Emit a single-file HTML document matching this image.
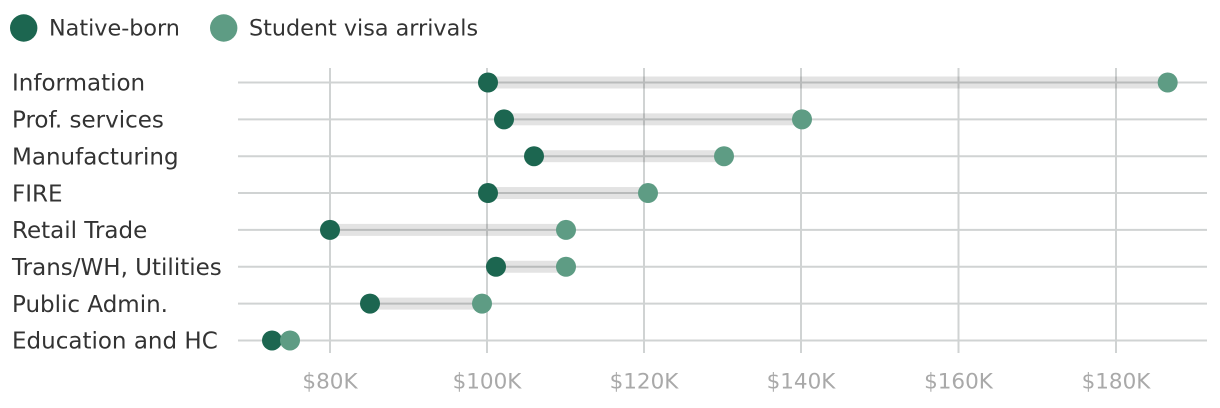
<!DOCTYPE html>
<html>
<head>
<meta charset="utf-8">
<style>
  html, body { margin:0; padding:0; background:#ffffff; }
  svg { display:block; }
  .leg { font-family:"DejaVu Sans","Liberation Sans",sans-serif; font-size:22.3px; fill:#333333; }
  .lab { font-family:"DejaVu Sans","Liberation Sans",sans-serif; font-size:23px; fill:#333333; }
  .tick { font-family:"DejaVu Sans","Liberation Sans",sans-serif; font-size:21.5px; fill:#a9a9a9; }
</style>
</head>
<body>
<svg width="1220" height="408" viewBox="0 0 1220 408" xmlns="http://www.w3.org/2000/svg">
  <!-- Legend -->
  <circle cx="23.7" cy="28" r="13.7" fill="#1c6650"/>
  <text class="leg" x="49" y="35.7">Native-born</text>
  <circle cx="223.7" cy="28" r="13.7" fill="#5e9c84"/>
  <text class="leg" x="249" y="35.7">Student visa arrivals</text>

  <!-- vertical gridlines -->
  <g stroke="#d0d3d3" stroke-width="2">
    <line x1="330" y1="68" x2="330" y2="353"/>
    <line x1="487" y1="68" x2="487" y2="353"/>
    <line x1="644" y1="68" x2="644" y2="353"/>
    <line x1="801" y1="68" x2="801" y2="353"/>
    <line x1="958.5" y1="68" x2="958.5" y2="353"/>
    <line x1="1116" y1="68" x2="1116" y2="353"/>
  </g>
  <!-- horizontal gridlines -->
  <g stroke="#d0d3d3" stroke-width="2">
    <line x1="238" y1="82.5" x2="1207" y2="82.5"/>
    <line x1="238" y1="119.35" x2="1207" y2="119.35"/>
    <line x1="238" y1="156.2" x2="1207" y2="156.2"/>
    <line x1="238" y1="193.05" x2="1207" y2="193.05"/>
    <line x1="238" y1="229.9" x2="1207" y2="229.9"/>
    <line x1="238" y1="266.75" x2="1207" y2="266.75"/>
    <line x1="238" y1="303.6" x2="1207" y2="303.6"/>
    <line x1="238" y1="340.45" x2="1207" y2="340.45"/>
  </g>

  <!-- bands -->
  <g fill="#000000" fill-opacity="0.11">
    <rect x="488" y="76.5" width="679.7" height="12"/>
    <rect x="504" y="113.35" width="298" height="12"/>
    <rect x="534" y="150.2" width="190" height="12"/>
    <rect x="488" y="187.05" width="160" height="12"/>
    <rect x="330" y="223.9" width="236" height="12"/>
    <rect x="496" y="260.75" width="70" height="12"/>
    <rect x="370" y="297.6" width="112" height="12"/>
    <rect x="272" y="334.45" width="18" height="12"/>
  </g>

  <!-- native dots -->
  <g fill="#1c6650">
    <circle cx="488" cy="82.5" r="10"/>
    <circle cx="504" cy="119.35" r="10"/>
    <circle cx="534" cy="156.2" r="10"/>
    <circle cx="488" cy="193.05" r="10"/>
    <circle cx="330" cy="229.9" r="10"/>
    <circle cx="496" cy="266.75" r="10"/>
    <circle cx="370" cy="303.6" r="10"/>
    <circle cx="272" cy="340.45" r="10"/>
  </g>
  <!-- student dots -->
  <g fill="#5e9c84">
    <circle cx="1167.7" cy="82.5" r="10"/>
    <circle cx="802" cy="119.35" r="10"/>
    <circle cx="724" cy="156.2" r="10"/>
    <circle cx="648" cy="193.05" r="10"/>
    <circle cx="566" cy="229.9" r="10"/>
    <circle cx="566" cy="266.75" r="10"/>
    <circle cx="482" cy="303.6" r="10"/>
    <circle cx="290" cy="340.45" r="10"/>
  </g>

  <!-- category labels -->
  <text class="lab" x="12" y="90.7">Information</text>
  <text class="lab" x="12" y="127.55">Prof. services</text>
  <text class="lab" x="12" y="164.4">Manufacturing</text>
  <text class="lab" x="12" y="201.25">FIRE</text>
  <text class="lab" x="12" y="238.1">Retail Trade</text>
  <text class="lab" x="12" y="274.95">Trans/WH, Utilities</text>
  <text class="lab" x="12" y="311.8">Public Admin.</text>
  <text class="lab" x="12" y="348.65">Education and HC</text>

  <!-- tick labels -->
  <g text-anchor="middle">
    <text class="tick" x="330" y="388.5">$80K</text>
    <text class="tick" x="487" y="388.5">$100K</text>
    <text class="tick" x="644" y="388.5">$120K</text>
    <text class="tick" x="801" y="388.5">$140K</text>
    <text class="tick" x="958.5" y="388.5">$160K</text>
    <text class="tick" x="1116" y="388.5">$180K</text>
  </g>
</svg>
</body>
</html>
